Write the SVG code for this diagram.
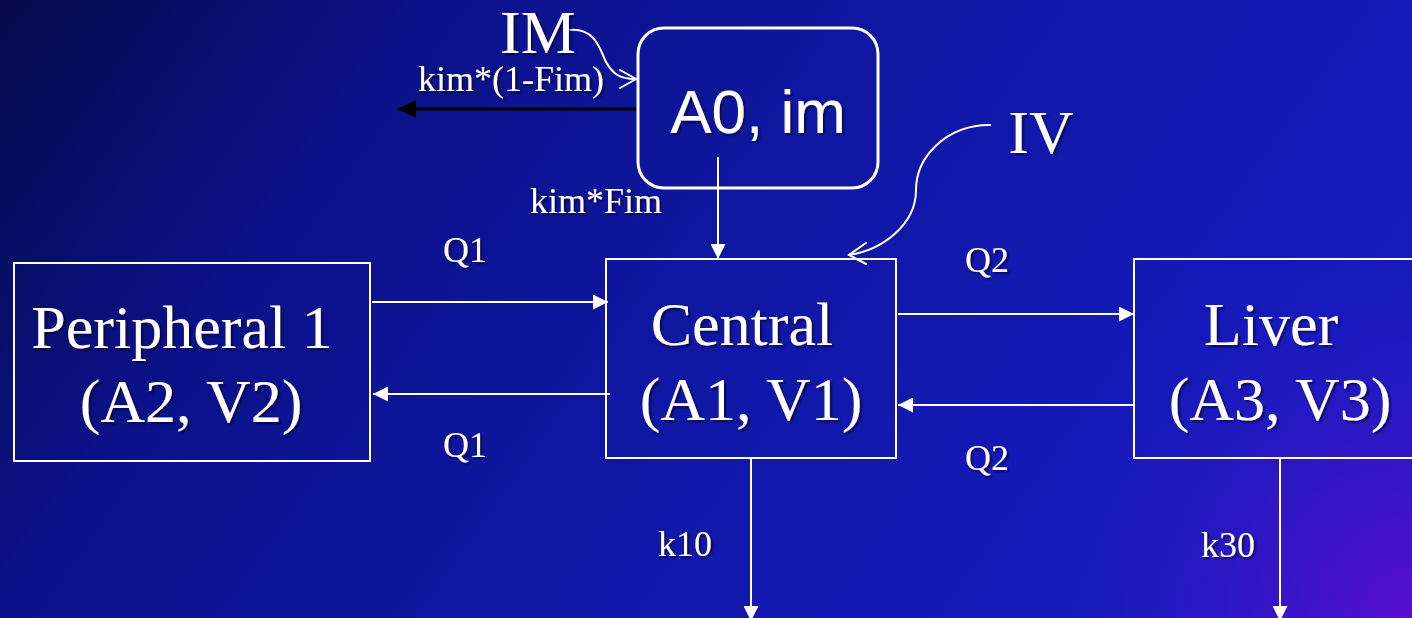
<svg xmlns="http://www.w3.org/2000/svg" width="1412" height="618" viewBox="0 0 1412 618">
<defs>
<linearGradient id="bg" gradientUnits="userSpaceOnUse" x1="0" y1="0" x2="1412" y2="1000">
<stop offset="0" stop-color="#060a4a"/>
<stop offset="0.2" stop-color="#0b1188"/>
<stop offset="0.45" stop-color="#1017a4"/>
<stop offset="0.66" stop-color="#1519b8"/>
<stop offset="0.9" stop-color="#1a1cc4"/>
</linearGradient>
<radialGradient id="glow" gradientUnits="userSpaceOnUse" cx="1412" cy="618" r="380">
<stop offset="0" stop-color="#5a0ed2" stop-opacity="1"/>
<stop offset="0.5" stop-color="#3a14c8" stop-opacity="0.6"/>
<stop offset="1" stop-color="#1a1cc4" stop-opacity="0"/>
</radialGradient>
<filter id="sh" x="-10%" y="-20%" width="120%" height="140%">
<feDropShadow dx="2" dy="2" stdDeviation="1" flood-color="#000020" flood-opacity="0.6"/>
</filter>
<marker id="ah" viewBox="0 0 10 10" refX="10" refY="5" markerWidth="15" markerHeight="15" markerUnits="userSpaceOnUse" orient="auto">
<path d="M0,0 L10,5 L0,10 Z" fill="#ffffff"/>
</marker>
<marker id="ahk" viewBox="0 0 10 10" refX="10" refY="5" markerWidth="18" markerHeight="18" markerUnits="userSpaceOnUse" orient="auto">
<path d="M0,0 L10,5 L0,10 Z" fill="#000000"/>
</marker>
</defs>
<style>
.box{fill:none;stroke:#ffffff;stroke-width:2}
.rbox{fill:none;stroke:#ffffff;stroke-width:3}
.big{font-family:"Liberation Serif","Times New Roman",serif;font-size:62px;fill:#ffffff;text-anchor:middle}
.sans{font-family:"Liberation Sans",Arial,sans-serif;font-size:62px;fill:#ffffff;text-anchor:middle}
.lbl{font-family:"Liberation Serif","Times New Roman",serif;font-size:36px;fill:#ffffff}
.c{fill:none;stroke:#ffffff;stroke-width:2}
.open{fill:none;stroke:#ffffff;stroke-width:2;stroke-linecap:round}
</style>
<rect x="0" y="0" width="1412" height="618" fill="url(#bg)"/>
<rect x="0" y="0" width="1412" height="618" fill="url(#glow)"/>

<g id="connectors">
<line class="c" x1="372" y1="302" x2="608" y2="302" marker-end="url(#ah)"/>
<line class="c" x1="610" y1="394" x2="373" y2="394" marker-end="url(#ah)"/>
<line class="c" x1="898" y1="314" x2="1134" y2="314" marker-end="url(#ah)"/>
<line class="c" x1="1134" y1="405" x2="898" y2="405" marker-end="url(#ah)"/>
<line class="c" x1="718" y1="157" x2="718" y2="259" marker-end="url(#ah)"/>
<line class="c" x1="751" y1="458" x2="751" y2="621" marker-end="url(#ah)"/>
<line class="c" x1="1280" y1="458" x2="1280" y2="621" marker-end="url(#ah)"/>
<line x1="638" y1="109" x2="398" y2="109" stroke="#000000" stroke-width="3" marker-end="url(#ahk)"/>
<path class="open" d="M570,30 C594,28 600,48 605,60 C612,74 620,79 635,79"/>
<path class="open" d="M620,70 L636,79 L620,88"/>
<path class="open" d="M990,125 C945,125 916,158 916,190 C916,225 882,250 849,255"/>
<path class="open" d="M866,243 L849,255 L866,264"/>
</g>

<g id="node-a0">
<rect class="rbox" x="638" y="28" width="240" height="160" rx="26" ry="26"/>
<text class="sans" x="758" y="133" filter="url(#sh)">A0, im</text>
</g>
<g id="node-peripheral">
<rect class="box" x="14" y="263" width="356" height="198"/>
<text class="big" x="182" y="348" filter="url(#sh)">Peripheral 1</text>
<text class="big" x="191" y="422" filter="url(#sh)">(A2, V2)</text>
</g>
<g id="node-central">
<rect class="box" x="606" y="259" width="290" height="199"/>
<text class="big" x="742" y="345" filter="url(#sh)">Central</text>
<text class="big" x="751" y="420" filter="url(#sh)">(A1, V1)</text>
</g>
<g id="node-liver">
<rect class="box" x="1134" y="259" width="290" height="199"/>
<text class="big" x="1271" y="345" filter="url(#sh)">Liver</text>
<text class="big" x="1280" y="420" filter="url(#sh)">(A3, V3)</text>
</g>

<g id="labels">
<text class="big" x="538" y="53" filter="url(#sh)">IM</text>
<text class="big" x="1041" y="153" filter="url(#sh)">IV</text>
<text class="lbl" x="418" y="91" filter="url(#sh)">kim*(1-Fim)</text>
<text class="lbl" x="530" y="213" filter="url(#sh)">kim*Fim</text>
<text class="lbl" x="443" y="262" filter="url(#sh)">Q1</text>
<text class="lbl" x="443" y="457" filter="url(#sh)">Q1</text>
<text class="lbl" x="965" y="272" filter="url(#sh)">Q2</text>
<text class="lbl" x="965" y="470" filter="url(#sh)">Q2</text>
<text class="lbl" x="658" y="556" filter="url(#sh)">k10</text>
<text class="lbl" x="1201" y="557" filter="url(#sh)">k30</text>
</g>
</svg>
